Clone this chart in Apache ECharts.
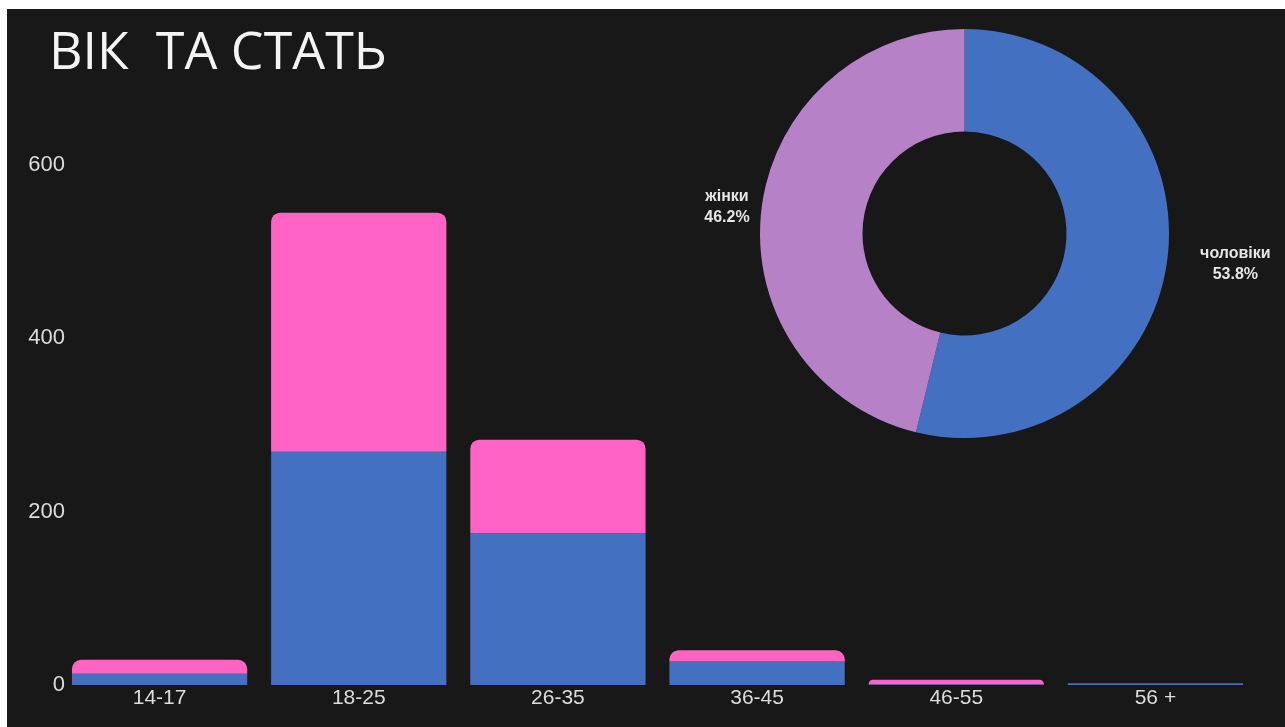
<!DOCTYPE html>
<html>
<head>
<meta charset="utf-8">
<script src="https://cdn.jsdelivr.net/npm/echarts@6/dist/echarts.min.js"></script>
<style>
  html, body { margin: 0; padding: 0; background: #ffffff; }
  #chart { position: absolute; left: 7px; top: 9px; width: 1278px; height: 718px; }
</style>
</head>
<body>
<div id="chart"></div>
<script>
// Age groups and respondent counts by gender
const ageGroups = ['14-17', '18-25', '26-35', '36-45', '46-55', '56 +'];
const menCounts = [13, 269, 175, 27, 1, 2];
const womenCounts = [16, 276, 108, 13, 5, 0];
const genderNames = ['чоловіки', 'жінки'];
const yTicks = [0, 200, 400, 600];

const sum = arr => arr.reduce((a, b) => a + b, 0);

const BLUE = '#4470c1';
const PINK = '#ff63c3';
const PURPLE = '#b781c8';
const BG = '#181818';

const chart = echarts.init(document.getElementById('chart'), null, { renderer: 'canvas' });

// Two-line centred label block of a fixed width
const labelRich = (w) => ({
  t: {
    width: w,
    align: 'center',
    color: '#e6e6e6',
    fontFamily: 'Liberation Sans, Arial, sans-serif',
    fontWeight: 'bold',
    fontSize: 16,
    lineHeight: 21
  }
});

chart.setOption({
  backgroundColor: BG,
  animation: false,
  title: {
    text: 'ВІК  ТА СТАТЬ',
    left: 37,
    top: 14,
    textStyle: {
      color: '#f4f4f4',
      fontFamily: 'Open Sans, sans-serif',
      fontWeight: 'normal',
      fontSize: 52
    }
  },
  grid: { left: 53, right: 30, top: 156, bottom: 42, containLabel: false },
  xAxis: {
    type: 'category',
    data: ageGroups,
    axisLine: { show: false },
    axisTick: { show: false },
    axisLabel: {
      color: '#dcdcdc',
      fontFamily: 'Liberation Sans, Arial, sans-serif',
      fontSize: 21,
      margin: 3
    }
  },
  yAxis: {
    type: 'value',
    min: yTicks[0],
    max: yTicks[yTicks.length - 1],
    interval: yTicks[1] - yTicks[0],
    splitLine: { show: false },
    axisLine: { show: false },
    axisTick: { show: false },
    axisLabel: {
      color: '#dcdcdc',
      fontFamily: 'Liberation Sans, Arial, sans-serif',
      fontSize: 22,
      margin: -5
    }
  },
  series: [
    {
      name: genderNames[0],
      type: 'bar',
      stack: 'age',
      data: menCounts,
      barCategoryGap: '12%',
      itemStyle: { color: BLUE }
    },
    {
      name: genderNames[1],
      type: 'bar',
      stack: 'age',
      data: womenCounts,
      barCategoryGap: '12%',
      itemStyle: { color: PINK, borderRadius: [9, 9, 0, 0] }
    },
    {
      type: 'pie',
      center: [957.5, 224.5],
      radius: [102, 204.5],
      startAngle: 90,
      clockwise: true,
      percentPrecision: 1,
      avoidLabelOverlap: false,
      label: {
        show: true,
        position: 'outside',
        formatter: '{t|{b}}\n{t|{d}%}'
      },
      labelLine: { show: false },
      emphasis: { disabled: true },
      data: [
        {
          name: genderNames[0],
          value: sum(menCounts),
          itemStyle: { color: BLUE },
          label: { rich: labelRich(76), padding: [8, 0, 0, 0] },
          labelLine: { show: false, length: 22, length2: 3 }
        },
        {
          name: genderNames[1],
          value: sum(womenCounts),
          itemStyle: { color: PURPLE },
          label: { rich: labelRich(50), padding: [0, 0, 2, 0] },
          labelLine: { show: false, length: 4.5, length2: 0 }
        }
      ]
    }
  ]
});
</script>
</body>
</html>
